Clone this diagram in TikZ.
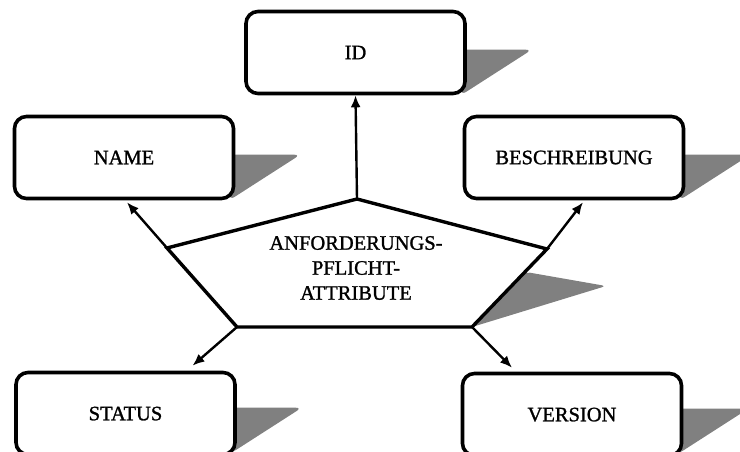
\documentclass[tikz,border=0pt]{standalone}
\usepackage{fontspec}
\setmainfont{Liberation Serif}
\newfontfamily\labelfont[FakeBold=1.2]{Liberation Serif}
\usetikzlibrary{arrows.meta}
\definecolor{shade}{RGB}{128,128,128}
\tikzset{
  attr/.style={draw=black, line width=3.6pt, rounded corners=12pt, fill=white,
    minimum width=219pt, minimum height=82pt, inner sep=0pt,
    font=\labelfont\fontsize{20.5}{23}\selectfont},
  dropshade/.style={fill=shade, rounded corners=6pt},
  link/.style={line width=2.4pt, -{Latex[length=12pt,width=10pt]}},
  core/.style={draw=black, line width=3.4pt, fill=white, line join=miter},
  corelabel/.style={align=center, font=\labelfont\fontsize{20.5}{25}\selectfont, inner sep=0pt}
}
% draws the slanted shadow behind the right side of a box
\newcommand{\boxshade}[1]{%
  \path[dropshade] ([yshift=-40pt]#1.north east) -- ++(65,0)
    -- ([xshift=-6pt]#1.south east) -- ([xshift=-6pt,yshift=-40pt]#1.north east) -- cycle;}
\begin{document}
\begin{tikzpicture}[x=1pt,y=-1pt]
\useasboundingbox (0,0) rectangle (740,452);

% the five attribute boxes (invisible first, to place the shadows)
\path (355.5,52.5) node[attr, draw=none, fill=none] (id) {}
      (124,157.5)  node[attr, draw=none, fill=none] (name) {}
      (574,157.5)  node[attr, draw=none, fill=none] (desc) {}
      (125.5,410.5) node[attr, draw=none, fill=none] (status) {}
      (572,411.5)  node[attr, draw=none, fill=none] (version) {};

\boxshade{id}
\boxshade{name}
\boxshade{desc}
\boxshade{status}
\boxshade{version}

\node[attr] at (id)      {ID};
\node[attr] at (name)    {NAME};
\node[attr] at (desc)    {BESCHREIBUNG};
\node[attr, text depth=0pt, yshift=-3pt] at (status)  {STATUS};
\node[attr, text depth=0pt, yshift=-3pt] at (version) {VERSION};

% central pentagon
\coordinate (pt) at (357,199);
\coordinate (pl) at (167,248);
\coordinate (pr) at (547,249);
\coordinate (pbl) at (237,327);
\coordinate (pbr) at (472,327);

\path[dropshade, rounded corners=4pt] (pbr) -- (526,272) -- (606,286) -- cycle;
\draw[core] (pt) -- (pr) -- (pbr) -- (pbl) -- (pl) -- cycle;
\node[corelabel] (core) at (356,268) {ANFORDERUNGS-\\PFLICHT-\\ATTRIBUTE};

% connectors
\draw[link] (pt)  -- (id.south);
\draw[link] (pl)  -- ([xshift=3pt,yshift=-2pt]name.south);
\draw[link] (pr)  -- ([xshift=9pt,yshift=-2pt]desc.south);
\draw[link] (pbl) -- ([xshift=67pt,yshift=2pt]status.north);
\draw[link] (pbr) -- ([xshift=-60pt,yshift=1pt]version.north);
\end{tikzpicture}
\end{document}
